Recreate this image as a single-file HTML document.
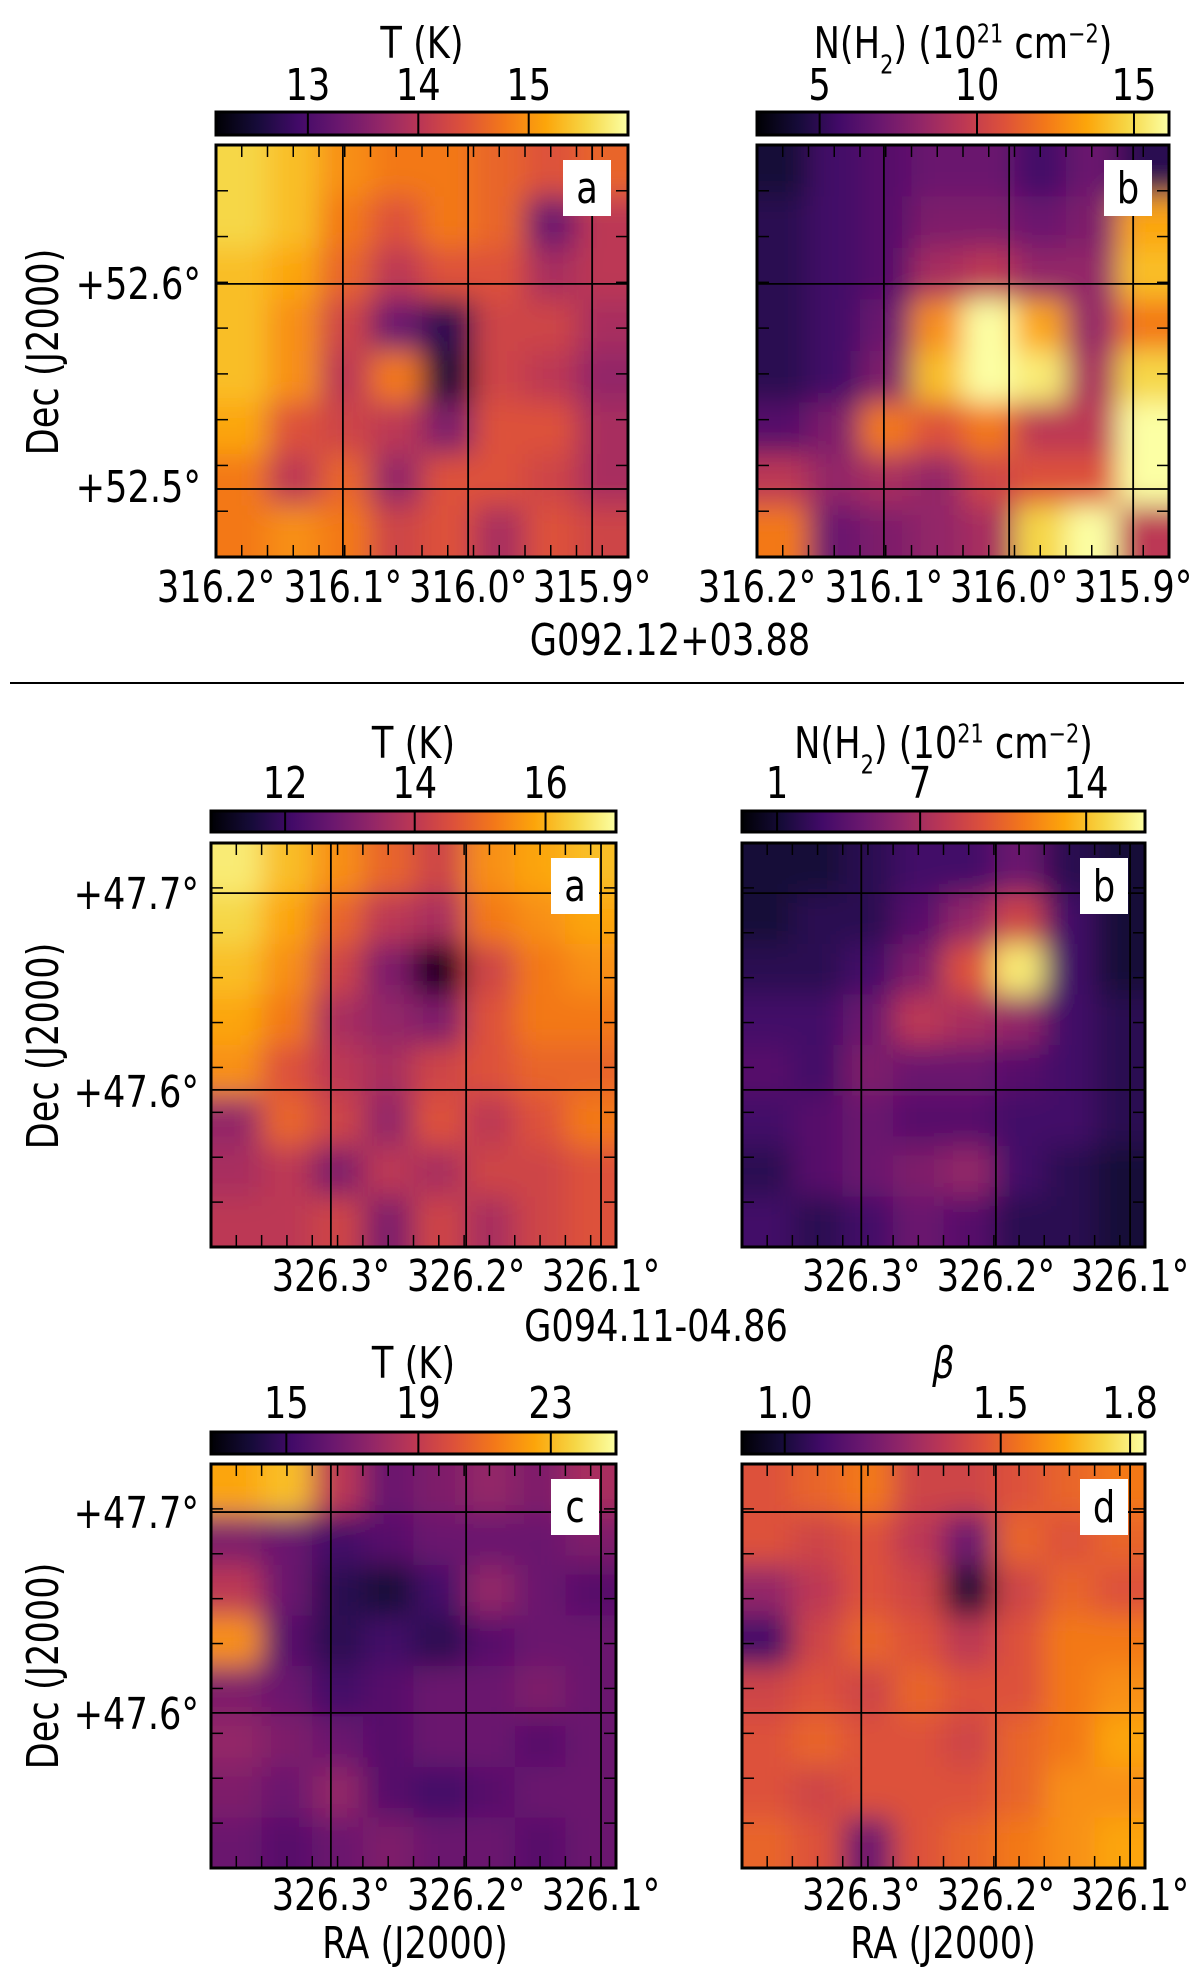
<!DOCTYPE html>
<html><head><meta charset="utf-8">
<style>
html,body{margin:0;padding:0;background:#fff;}
svg{display:block;}
text{font-family:"DejaVu Sans","Liberation Sans",sans-serif;fill:#000;}
</style></head>
<body>
<svg id="fig" width="1200" height="1972" viewBox="0 0 1200 1972" xmlns="http://www.w3.org/2000/svg">
<defs>
<filter id="blur" filterUnits="userSpaceOnUse" x="0" y="0" width="1200" height="1972"><feGaussianBlur stdDeviation="14"/></filter>
</defs>
</svg>
<script>
// ---- data (8x8 normalized map values, rows top->bottom) ----
const map1a=[[.9,.85,.75,.7,.7,.65,.6,.65],[.9,.85,.7,.6,.7,.65,.3,.5],[.85,.8,.65,.5,.6,.6,.45,.5],[.85,.75,.55,.3,.15,.55,.55,.45],[.85,.75,.5,.7,.1,.55,.5,.4],[.8,.6,.55,.5,.35,.6,.6,.45],[.7,.5,.65,.4,.6,.6,.55,.45],[.7,.75,.7,.55,.6,.45,.6,.55]];
const map1b=[[.1,.2,.25,.3,.3,.2,.3,.15],[.15,.2,.25,.35,.35,.3,.35,.8],[.15,.2,.25,.45,.5,.4,.4,.85],[.15,.2,.3,.75,1,.8,.4,.7],[.15,.2,.35,.85,1,.95,.45,.9],[.25,.35,.7,.6,.7,.5,.5,1],[.5,.4,.45,.4,.55,.6,.6,1],[.7,.3,.35,.4,.45,.9,1,.5]];
const map2a=[[.95,.85,.75,.65,.55,.75,.8,.85],[.9,.8,.65,.5,.45,.7,.75,.8],[.85,.75,.55,.35,.05,.55,.7,.75],[.8,.7,.45,.4,.35,.6,.7,.7],[.75,.6,.5,.45,.55,.6,.65,.65],[.4,.65,.55,.4,.6,.5,.6,.7],[.45,.5,.35,.5,.45,.55,.55,.6],[.5,.5,.55,.35,.55,.45,.55,.6]];
const map2b=[[.1,.1,.15,.2,.2,.3,.15,.1],[.1,.15,.15,.25,.4,.55,.2,.1],[.15,.15,.2,.35,.6,.95,.2,.1],[.2,.2,.3,.5,.45,.4,.2,.15],[.25,.2,.35,.3,.3,.25,.2,.15],[.2,.25,.3,.25,.25,.2,.2,.15],[.15,.25,.3,.35,.4,.2,.15,.1],[.2,.15,.2,.3,.25,.15,.15,.1]];
const map2c=[[.8,.85,.5,.3,.35,.4,.35,.45],[.35,.3,.2,.25,.3,.3,.3,.35],[.5,.3,.15,.1,.2,.4,.3,.25],[.75,.25,.15,.2,.15,.25,.3,.3],[.35,.3,.2,.25,.3,.3,.35,.3],[.4,.35,.3,.25,.3,.3,.25,.3],[.35,.3,.4,.25,.2,.25,.3,.3],[.3,.25,.3,.35,.3,.3,.25,.3]];
const map2d=[[.6,.65,.7,.55,.55,.6,.65,.7],[.6,.55,.6,.5,.3,.65,.6,.65],[.4,.5,.6,.55,.1,.55,.65,.6],[.2,.55,.65,.6,.5,.6,.7,.7],[.55,.6,.55,.65,.6,.6,.7,.75],[.6,.65,.6,.6,.55,.65,.7,.8],[.6,.55,.6,.6,.6,.65,.75,.75],[.65,.6,.3,.6,.65,.7,.75,.8]];
// colorbar ticks (values) and fractional positions
const cbTicks1a=["13","14","15"], cbFrac1a=[.223,.491,.759];
const cbTicks1b=["5","10","15"], cbFrac1b=[.152,.534,.915];
const cbTicks2a=["12","14","16"], cbFrac2a=[.183,.503,.826];
const cbTicks2b=["1","7","14"], cbFrac2b=[.087,.442,.854];
const cbTicks2c=["15","19","23"], cbFrac2c=[.186,.512,.839];
const cbTicks2d=["1.0","1.5","1.8"], cbFrac2d=[.106,.642,.963];
const raTicks1=["316.2°","316.1°","316.0°","315.9°"];
const raTicks2=["326.3°","326.2°","326.1°"];
const decTicks1=["+52.6°","+52.5°"];
const decTicks2=["+47.7°","+47.6°"];

const NS="http://www.w3.org/2000/svg";
const svg=document.getElementById('fig');
const FS=44;
const inf=[[0,0,0,4],[.1,22,11,57],[.2,66,10,104],[.3,106,23,110],[.4,147,38,103],[.5,188,55,84],[.6,221,81,58],[.7,243,120,25],[.8,252,165,10],[.9,246,215,70],[1,252,255,164]];
function cmap(v){v=Math.max(0,Math.min(1,v));for(let i=1;i<inf.length;i++){if(v<=inf[i][0]){const a=inf[i-1],b=inf[i],t=(v-a[0])/(b[0]-a[0]);return `rgb(${Math.round(a[1]+t*(b[1]-a[1]))},${Math.round(a[2]+t*(b[2]-a[2]))},${Math.round(a[3]+t*(b[3]-a[3]))})`;}}return 'rgb(252,255,164)';}
function el(tag,attrs,parent){const e=document.createElementNS(NS,tag);for(const k in attrs)e.setAttribute(k,attrs[k]);(parent||svg).appendChild(e);return e;}
function txt(s,x,y,size,anchor,parent,extra){const t=el('text',Object.assign({x:0,y:0,'font-size':size,'text-anchor':anchor||'middle',transform:`translate(${x},${y}) scale(0.8,1)`},extra||{}),parent);t.textContent=s;return t;}
const defs=svg.querySelector('defs');
const lg=el('linearGradient',{id:'infg',x1:0,x2:1,y1:0,y2:0},defs);
for(let i=0;i<=20;i++){el('stop',{offset:i/20,'stop-color':cmap(i/20)},lg);}

function panel(name,x,y,w,h,data,letter,vlines,hlines){
  const g=el('g',{});
  
  
  const cp=el('clipPath',{id:'cp-'+name},defs);
  el('rect',{x:x,y:y,width:w,height:h},cp);
  const inner=el('g',{'clip-path':`url(#cp-${name})`},g);
  const blur=el('g',{filter:'url(#blur)'},inner);
  const n=data.length,m=data[0].length,cw=w/m,ch=h/n;
  for(let r=-2;r<n+2;r++)for(let c=-2;c<m+2;c++){
    const rr=Math.max(0,Math.min(n-1,r)),cc=Math.max(0,Math.min(m-1,c));
    const cell=el('rect',{x:x+c*cw,y:y+r*ch,width:cw+1,height:ch+1,fill:cmap(data[rr][cc])},blur);
    
    
  }
  vlines.forEach(f=>{const l=el('line',{x1:x+f*w,x2:x+f*w,y1:y,y2:y+h,stroke:'#000','stroke-width':1.8},inner);});
  hlines.forEach(f=>{const l=el('line',{x1:x,x2:x+w,y1:y+f*h,y2:y+f*h,stroke:'#000','stroke-width':1.8},inner);});
  for(let i=1;i<16;i++){const tx=x+i*w/16;el('line',{x1:tx,x2:tx,y1:y,y2:y+12,stroke:'#000','stroke-width':1.5},inner);el('line',{x1:tx,x2:tx,y1:y+h,y2:y+h-12,stroke:'#000','stroke-width':1.5},inner);}
  for(let i=1;i<9;i++){const ty=y+i*h/9;el('line',{x1:x,x2:x+12,y1:ty,y2:ty,stroke:'#000','stroke-width':1.5},inner);el('line',{x1:x+w,x2:x+w-12,y1:ty,y2:ty,stroke:'#000','stroke-width':1.5},inner);}
  el('rect',{x:x,y:y,width:w,height:h,fill:'none',stroke:'#000','stroke-width':3},g);
  const lb=el('g',{},g);
  
  
  el('rect',{x:x+w-65,y:y+15,width:48,height:56,fill:'#fff'},lb);
  txt(letter,x+w-41,y+58,FS,'middle',lb);
}
function colorbar(name,x,y,w,h,title,ticks,fracs,ty,tiy,italic){
  const g=el('g',{});
  
  
  el('rect',{x:x,y:y,width:w,height:h,fill:'url(#infg)',stroke:'#000','stroke-width':3},g);
  fracs.forEach((f,i)=>{el('line',{x1:x+f*w,x2:x+f*w,y1:y,y2:y+h,stroke:'#000','stroke-width':2},g);txt(ticks[i],x+f*w,tiy,FS,'middle',g);});
  const t=txt('',x+w/2,ty,FS,'middle',g,italic?{'font-style':'italic','font-family':'DejaVu Serif, serif'}:{});
  t.innerHTML=title;
}
const NH='N(H<tspan baseline-shift="sub" font-size="26">2</tspan>) (10<tspan baseline-shift="super" font-size="26">21</tspan> cm<tspan baseline-shift="super" font-size="26">−2</tspan>)';
// Section 1
colorbar('colorbar-temperature-1',216,112,412,23,'T (K)',cbTicks1a,cbFrac1a,58,100);
colorbar('colorbar-column-density-1',757,112,412,23,NH,cbTicks1b,cbFrac1b,58,100);
panel('temperature-map-1',216,145,412,412,map1a,'a',[.308,.612,.913],[.337,.835]);
panel('column-density-map-1',757,145,412,412,map1b,'b',[.308,.612,.913],[.337,.835]);
[[216,412],[757,412]].forEach(p=>{raTicks1.forEach((s,i)=>{txt(s,p[0]+[0,.308,.612,.913][i]*p[1],602,FS,'middle');});});
txt(decTicks1[0],201,299,FS,'end');txt(decTicks1[1],201,502,FS,'end');
txt('Dec (J2000)',0,0,FS,'middle',null,{transform:'translate(58,352) rotate(-90) scale(0.8,1)'});
txt('G092.12+03.88',670,655,FS,'middle');
el('line',{x1:10,x2:1184,y1:683,y2:683,stroke:'#000','stroke-width':2});
// Section 2
colorbar('colorbar-temperature-2',211,811,405,21,'T (K)',cbTicks2a,cbFrac2a,758,798);
colorbar('colorbar-column-density-2',742,811,403,21,NH,cbTicks2b,cbFrac2b,758,798);
panel('temperature-map-2',211,843,405,404,map2a,'a',[.296,.63,.963],[.124,.611]);
panel('column-density-map-2',742,843,403,404,map2b,'b',[.296,.63,.963],[.124,.611]);
[[211,405],[742,403]].forEach(p=>{raTicks2.forEach((s,i)=>{txt(s,p[0]+[.296,.63,.963][i]*p[1],1291,FS,'middle');});});
txt(decTicks2[0],199,909,FS,'end');txt(decTicks2[1],199,1107,FS,'end');
txt('Dec (J2000)',0,0,FS,'middle',null,{transform:'translate(58,1046) rotate(-90) scale(0.8,1)'});
txt('G094.11-04.86',656,1341,FS,'middle');
// Section 3
colorbar('colorbar-temperature-3',211,1432,405,22,'T (K)',cbTicks2c,cbFrac2c,1378,1418);
colorbar('colorbar-beta',742,1432,403,22,'β',cbTicks2d,cbFrac2d,1378,1418,true);
panel('temperature-map-3',211,1464,405,404,map2c,'c',[.296,.63,.963],[.119,.616]);
panel('beta-map',742,1464,403,404,map2d,'d',[.296,.63,.963],[.119,.616]);
[[211,405],[742,403]].forEach(p=>{raTicks2.forEach((s,i)=>{txt(s,p[0]+[.296,.63,.963][i]*p[1],1910,FS,'middle');});});
txt(decTicks2[0],199,1528,FS,'end');txt(decTicks2[1],199,1729,FS,'end');
txt('Dec (J2000)',0,0,FS,'middle',null,{transform:'translate(58,1666) rotate(-90) scale(0.8,1)'});
txt('RA (J2000)',415,1958,FS,'middle');
txt('RA (J2000)',943,1958,FS,'middle');
</script>
</body></html>
